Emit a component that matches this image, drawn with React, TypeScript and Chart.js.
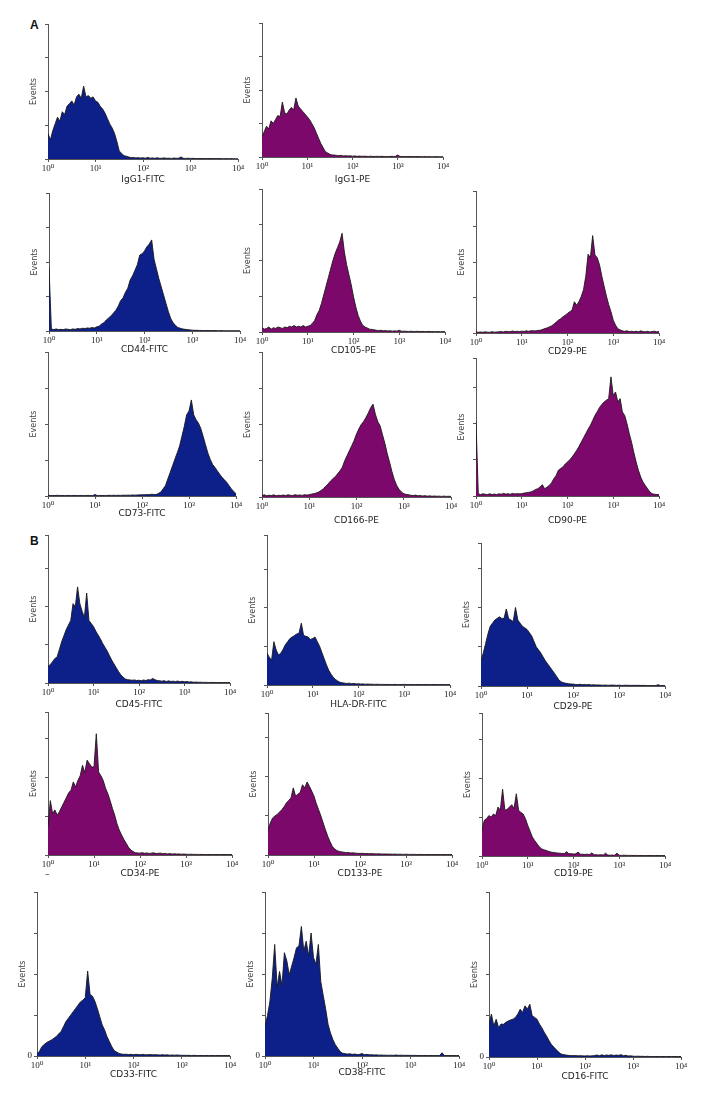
import React, { useEffect, useRef } from 'react';
import { Chart, registerables } from 'chart.js';

Chart.register(...registerables);

// log10 fluorescence channel positions (10^0 .. 10^4)
const LOG_BINS = [
  0, 0.05, 0.1, 0.15, 0.2, 0.25, 0.3, 0.35, 0.4, 0.45,
  0.5, 0.55, 0.6, 0.65, 0.7, 0.75, 0.8, 0.85, 0.9, 0.95,
  1, 1.05, 1.1, 1.15, 1.2, 1.25, 1.3, 1.35, 1.4, 1.45,
  1.5, 1.55, 1.6, 1.65, 1.7, 1.75, 1.8, 1.85, 1.9, 1.95,
  2, 2.05, 2.1, 2.15, 2.2, 2.25, 2.3, 2.35, 2.4, 2.45,
  2.5, 2.55, 2.6, 2.65, 2.7, 2.75, 2.8, 2.85, 2.9, 2.95,
  3, 3.05, 3.1, 3.15, 3.2, 3.25, 3.3, 3.35, 3.4, 3.45,
  3.5, 3.55, 3.6, 3.65, 3.7, 3.75, 3.8, 3.85, 3.9, 3.95,
  4,
];

const X_TICKS = [0, 1, 2, 3, 4];
const X_TICK_LABELS = ['10\u2070', '10\u00B9', '10\u00B2', '10\u00B3', '10\u2074'];
const Y_TICKS = [0, 25, 50, 75, 100];

// Events (relative units; 25 = one y tick interval)
const IGG1_FITC = [
  19, 14, 21, 26, 31, 28, 35, 33, 39, 41,
  43, 40, 46, 48, 45, 54, 46, 47, 45, 46,
  43, 42, 39, 37, 34, 30, 26, 23, 19, 13,
  6, 4, 2.5, 2, 1.5, 1, 1.2, 0.8, 1, 0.7,
  0.9, 0.6, 1.2, 0.6, 0.8, 0.5, 0.9, 0.5, 0.6, 0.8,
  0.5, 0.6, 0.4, 0.7, 0.5, 0.6, 1.5, 0.5, 0.4, 0.6,
  0.4, 0.5, 0.3, 0.4, 0.3, 0.4, 0.3, 0.3, 0.4, 0.3,
  0.3, 0.3, 0.3, 0.3, 0.2, 0.3, 0.2, 0.3, 0.2, 0.2,
  0.2,
];
const IGG1_PE = [
  15, 19, 23, 21, 27, 25, 28, 31, 30, 41,
  33, 32, 35, 37, 35, 44, 38, 36, 34, 32,
  30, 28, 25, 22, 18, 14, 10, 7, 4, 3,
  2, 1.5, 1.5, 1.2, 1, 1.2, 0.8, 1, 0.7, 0.9,
  0.6, 0.8, 0.5, 0.7, 0.5, 0.6, 0.5, 0.4, 0.6, 0.4,
  0.4, 0.5, 0.4, 0.5, 0.3, 0.4, 0.3, 0.5, 0.4, 0.5,
  1.5, 0.4, 0.3, 0.4, 0.3, 0.3, 0.4, 0.3, 0.3, 0.3,
  0.3, 0.2, 0.3, 0.2, 0.3, 0.2, 0.2, 0.3, 0.2, 0.2,
  0.2,
];
const CD44_FITC = [
  46, 1.5, 1, 1.5, 1, 1.2, 1, 1.5, 1.2, 1,
  1.5, 1.2, 1.8, 1.5, 2, 1.8, 2.2, 2, 2.5, 2.2,
  3, 3.5, 5, 6, 8, 9.5, 11, 13, 15, 18,
  22, 24, 28, 31, 37, 40, 44, 48, 55, 56,
  58, 61, 63, 66, 52, 45, 38, 32, 26, 20,
  14, 9, 6, 4, 2.5, 2, 1.5, 1.2, 1, 0.8,
  0.6, 0.5, 0.5, 0.4, 0.4, 0.3, 0.4, 0.3, 0.3, 0.3,
  0.3, 0.2, 0.3, 0.2, 0.2, 0.2, 0.2, 0.2, 0.2, 0.2,
  0.2,
];
const CD105_PE = [
  3, 2, 2.5, 3.5, 2, 3, 2.5, 3.5, 3, 2.5,
  3.5, 3, 4, 3.5, 4.5, 3.5, 4, 3.5, 4.5, 3.5,
  4, 4.5, 6, 8, 12, 15, 20, 26, 32, 38,
  44, 50, 55, 59, 63, 69, 56, 47, 40, 33,
  24.6, 17.6, 11.7, 7.7, 4.7, 3.5, 2.8, 2, 1.8, 1.5,
  1.2, 1, 1.2, 0.8, 1, 0.7, 0.9, 0.6, 0.8, 0.6,
  1.2, 0.5, 0.6, 0.5, 0.4, 0.5, 0.4, 0.4, 0.5, 0.3,
  0.4, 0.3, 0.3, 0.4, 0.3, 0.3, 0.2, 0.3, 0.2, 0.3,
  0.2,
];
const CD29_PE_A = [
  0.8, 0.5, 0.7, 0.5, 0.8, 0.6, 0.5, 0.9, 0.6, 0.7,
  0.8, 1, 0.7, 1.2, 0.9, 1, 1.4, 1, 1.2, 1,
  1.3, 1.1, 1.5, 1.2, 1.6, 1.5, 1.5, 1.8, 1.9, 2.4,
  3.1, 3.5, 4.3, 5, 6.2, 7.5, 9, 10, 11.4, 12.5,
  13.8, 15, 16, 22, 19.5, 22, 25.7, 30.5, 40, 55.5,
  53, 68.6, 55, 53, 48, 40, 33, 26, 20, 15,
  9, 5.5, 3, 2.2, 1.5, 1.2, 1.5, 1, 1.2, 0.9,
  1.2, 0.8, 1.5, 1, 0.8, 1.2, 0.7, 1, 1.3, 0.8,
  1,
];
const CD73_FITC = [
  0.5, 0.3, 0.4, 0.3, 0.5, 0.3, 0.4, 0.3, 0.3, 0.4,
  0.3, 0.4, 0.3, 0.3, 0.4, 0.3, 0.3, 0.4, 0.3, 0.3,
  1, 0.3, 0.4, 0.3, 0.4, 0.3, 0.5, 0.4, 0.5, 0.4,
  0.5, 0.4, 0.6, 0.5, 0.6, 0.5, 0.7, 0.6, 0.7, 0.8,
  0.8, 0.9, 1, 0.9, 1.2, 1.1, 1, 1.8, 2.7, 5,
  7.3, 11.9, 16.4, 21, 25.6, 30, 34.7, 41.5, 48.4, 56.4,
  59, 66.7, 56.4, 53, 50.7, 47, 41.5, 35.8, 30, 25.6,
  22, 19.9, 17.6, 15.3, 13, 11.4, 9.6, 7.3, 5, 3.2,
  1.6,
];
const CD166_PE = [
  1, 1.5, 0.8, 1.2, 1, 1.5, 0.8, 1.2, 1, 1.4,
  1, 1.5, 1.2, 1, 1.6, 1.2, 1.4, 1.1, 1.6, 1.3,
  1.6, 2, 2.3, 2.8, 3.4, 4.5, 5.7, 7.5, 9, 11,
  12.6, 14, 16, 18, 20.5, 25, 28.5, 32, 35.4, 39,
  43.4, 47, 50, 52, 54.8, 58, 61.6, 64, 57, 52,
  49, 43, 37, 30, 24, 17.5, 12, 8, 5.3, 3.5,
  2.3, 1.8, 1.6, 1.2, 1, 1.3, 0.8, 1, 0.7, 0.9,
  0.6, 0.8, 0.5, 0.7, 0.5, 0.6, 0.4, 0.6, 0.4, 0.5,
  0.4,
];
const CD90_PE = [
  51, 1.5, 1, 1.5, 1.2, 1, 1.5, 1, 1.3, 1,
  1.5, 1.2, 1.8, 1.3, 1.5, 1.2, 1.8, 1.4, 1.6, 1.5,
  1.6, 2, 2.2, 2.5, 2.8, 3.5, 4.5, 5, 6.2, 7.8,
  5, 6, 7.3, 9, 11.9, 14, 17.7, 19, 20, 22,
  23.4, 25, 26.8, 29, 31.4, 34, 37, 40, 43, 46,
  48.6, 52, 55.5, 58, 61, 63, 64.7, 66, 67, 82,
  69, 71.6, 64.7, 67, 57.8, 55.5, 49.8, 43, 37, 30,
  23.4, 17.7, 13, 9.6, 7.3, 5, 2.8, 1.6, 1.2, 1,
  1,
];
const CD45_FITC = [
  11, 12, 14, 16, 17, 22, 27, 31, 35, 38,
  41, 52, 50, 63, 52, 47, 43, 59, 41, 39,
  37, 34, 31.5, 29, 26, 23.5, 21, 18, 15, 12.5,
  10, 7.5, 5.4, 3.8, 2.6, 2.2, 2, 1.8, 2, 1.6,
  1.8, 1.5, 2, 1.6, 2.2, 2, 3, 2.2, 1.6, 1.5,
  1.2, 1.5, 1, 1.4, 1, 1.2, 0.9, 1.3, 0.8, 1.1,
  0.8, 1, 0.6, 0.8, 0.5, 0.6, 0.5, 0.5, 0.4, 0.4,
  0.4, 0.3, 0.4, 0.3, 0.3, 0.3, 0.3, 0.3, 0.3, 0.3,
  0.3,
];
const HLA_DR_FITC = [
  20.5, 18, 16, 28, 22.7, 19.4, 20.5, 23, 26, 28,
  30, 31, 32, 33, 33.5, 40, 32, 31.5, 31, 29.5,
  30, 31, 28, 25, 21, 17, 13, 9.5, 7, 5,
  3.5, 2.5, 1.7, 1.4, 1.2, 1, 1.2, 0.8, 1, 0.7,
  0.8, 0.6, 0.7, 0.5, 0.6, 0.5, 0.5, 0.4, 0.5, 0.4,
  0.4, 0.4, 0.3, 0.4, 0.3, 0.3, 0.4, 0.3, 0.3, 0.3,
  0.4, 0.3, 0.3, 0.3, 0.3, 0.3, 0.3, 0.3, 0.3, 0.3,
  0.3, 0.3, 0.3, 0.3, 0.3, 0.3, 0.3, 0.3, 0.3, 0.3,
  0.3,
];
const CD29_PE_B = [
  16, 21, 27, 33, 38, 40, 42, 43, 44, 43,
  43, 49, 43, 42, 41, 50, 42, 40, 38, 37,
  36, 34, 32, 28.5, 25, 23, 21, 18.5, 16, 14,
  12, 10, 8, 5.8, 3.6, 2.6, 2, 1.7, 1.5, 1.3,
  1.2, 1, 0.9, 1.1, 0.8, 1, 0.8, 0.9, 0.7, 0.8,
  0.6, 0.7, 0.6, 0.5, 0.6, 0.5, 0.5, 0.6, 0.5, 0.4,
  0.5, 0.4, 0.4, 0.5, 0.4, 0.4, 0.4, 0.4, 0.4, 0.4,
  0.3, 0.4, 0.3, 0.3, 0.3, 0.3, 0.3, 0.8, 0.3, 0.3,
  0.3,
];
const CD34_PE = [
  18, 35, 26.7, 29, 25.6, 28, 31, 34, 37, 40,
  41.7, 47, 43.8, 48, 51, 57.7, 53, 61, 58.8, 56.6,
  56.6, 78, 53.4, 51, 48, 43, 39.5, 35, 30, 25.6,
  20, 16, 12.8, 10, 7.5, 5, 3.2, 2.2, 1.5, 1.3,
  1.2, 1.5, 1.1, 1.3, 1, 1.2, 1.4, 0.9, 1.1, 1.2,
  0.8, 1, 0.7, 0.9, 0.6, 0.8, 0.6, 0.7, 0.5, 0.6,
  0.5, 0.4, 0.5, 0.4, 0.4, 0.4, 0.3, 0.4, 0.3, 0.3,
  0.3, 0.3, 0.3, 0.3, 0.3, 0.3, 0.3, 0.3, 0.3, 0.3,
  0.3,
];
const CD133_PE = [
  16, 20.5, 23.7, 25, 26, 27.5, 29, 31, 33.4, 35,
  36.6, 43, 37.7, 39, 40, 45, 43, 46.8, 44, 41,
  37.7, 33, 29, 25, 20.5, 16, 11.9, 8.5, 5.4, 3.8,
  2.8, 2.3, 2, 1.8, 1.5, 1.6, 1.3, 1.4, 1.2, 1.1,
  1, 1.1, 0.9, 1, 0.8, 0.9, 0.8, 0.7, 0.8, 0.7,
  0.6, 0.7, 0.6, 0.6, 0.5, 0.6, 0.5, 0.5, 0.5, 0.4,
  0.5, 0.4, 0.4, 0.4, 0.4, 0.3, 0.4, 0.3, 0.3, 0.3,
  0.3, 0.3, 0.3, 0.3, 0.3, 0.3, 0.3, 0.3, 0.3, 0.3,
  0.3,
];
const CD19_PE = [
  16.5, 23, 24, 26, 25, 27, 26, 31.5, 29.4, 43,
  29.4, 30, 31.5, 33, 30.5, 40, 29.4, 28, 27, 24,
  19.7, 16, 12.2, 10, 8, 6, 4.7, 4, 3.6, 3,
  2.6, 2.3, 2.1, 1.9, 1.8, 1.6, 1.5, 2.8, 1.4, 1.5,
  1.3, 1.4, 2.5, 1.2, 1.1, 1, 1.2, 0.9, 2, 0.8,
  0.8, 0.7, 0.8, 0.6, 1.8, 0.6, 0.5, 0.6, 0.5, 1.8,
  0.5, 0.4, 0.5, 0.4, 0.4, 0.4, 0.3, 0.4, 0.3, 0.3,
  0.3, 0.3, 0.3, 0.3, 0.3, 0.3, 0.3, 0.3, 0.3, 0.3,
  0.3,
];
const CD33_FITC = [
  1.6, 2.7, 5.7, 7, 8.2, 9, 9.8, 10.8, 11.9, 13.5,
  15, 18, 21, 23, 25, 27, 29, 31, 33, 34,
  35.5, 51.8, 37.5, 36.5, 33.4, 29, 24, 19, 16, 11.9,
  8.8, 5.7, 3.3, 2.4, 1.6, 1.2, 1, 1.1, 0.9, 1,
  0.8, 1, 0.9, 0.8, 1, 0.7, 0.8, 0.9, 0.7, 0.8,
  0.7, 0.6, 0.8, 0.6, 0.7, 0.5, 0.6, 0.5, 0.6, 0.5,
  0.4, 0.4, 0.4, 0.4, 0.3, 0.4, 0.3, 0.3, 0.3, 0.3,
  0.3, 0.3, 0.3, 0.3, 0.3, 0.3, 0.3, 0.3, 0.3, 0.3,
  0.3,
];
const CD38_FITC = [
  18, 24.6, 33, 47.5, 68, 42, 51.6, 43, 63, 58,
  49.6, 54.8, 60, 66, 67, 79, 64, 70, 61, 75,
  60, 56, 68, 45.4, 37, 28.8, 19.4, 14, 10, 6.9,
  4.8, 2.7, 1.7, 1.4, 1.2, 1.3, 1, 1.2, 0.9, 1,
  1.5, 0.8, 1, 0.7, 0.8, 0.6, 0.7, 0.5, 0.6, 0.5,
  0.5, 0.4, 0.5, 0.4, 0.6, 0.4, 0.5, 0.4, 0.4, 0.4,
  0.4, 0.3, 0.4, 0.3, 0.3, 0.3, 0.3, 0.3, 0.3, 0.3,
  0.3, 0.3, 0.3, 2, 0.3, 0.3, 0.3, 0.3, 0.3, 0.3,
  0.3,
];
const CD16_FITC = [
  20, 26, 18.8, 22.9, 17.8, 20, 19.8, 21, 21.8, 22.5,
  22.9, 24, 26, 29, 27, 31, 29, 32, 25, 24,
  22.9, 20, 17.8, 15, 12.6, 10, 7.6, 6, 4.5, 3,
  1.8, 1.5, 1.2, 1, 0.9, 0.8, 0.9, 0.7, 0.8, 0.7,
  0.6, 0.8, 0.6, 0.7, 0.9, 1.2, 0.8, 1.3, 0.9, 1.2,
  1, 1.3, 0.9, 1.2, 1, 1.4, 0.8, 1, 0.6, 0.7,
  0.5, 0.4, 0.5, 0.4, 0.4, 0.3, 0.4, 0.3, 0.3, 0.3,
  0.3, 0.3, 0.3, 0.3, 0.3, 0.3, 0.3, 0.3, 0.3, 0.3,
  0.3,
];

const COLORS: Record<string, string> = {
  FITC: '#0d1f88',
  PE: '#7c086b',
};

type PanelDef = {
  name: string;
  values: number[];
  dye: string;
  yMax: number;
  L: number; R: number; T: number; B: number; N: number;
  zero?: boolean;
};

const PANELS: PanelDef[] = [
  { name: 'IgG1-FITC', values: IGG1_FITC, dye: 'FITC', yMax: 100, L: 48, R: 238, T: 24, B: 159, N: 180 },
  { name: 'IgG1-PE', values: IGG1_PE, dye: 'PE', yMax: 100, L: 262, R: 443, T: 23, B: 157, N: 180 },
  { name: 'CD44-FITC', values: CD44_FITC, dye: 'FITC', yMax: 100, L: 49, R: 240, T: 193, B: 331, N: 350 },
  { name: 'CD105-PE', values: CD105_PE, dye: 'PE', yMax: 100, L: 262, R: 445, T: 189, B: 332, N: 351 },
  { name: 'CD29-PE', values: CD29_PE_A, dye: 'PE', yMax: 100, L: 476, R: 659, T: 191, B: 333, N: 352 },
  { name: 'CD73-FITC', values: CD73_FITC, dye: 'FITC', yMax: 100, L: 48, R: 236, T: 352, B: 496, N: 514 },
  { name: 'CD166-PE', values: CD166_PE, dye: 'PE', yMax: 100, L: 262, R: 451, T: 352, B: 497, N: 521 },
  { name: 'CD90-PE', values: CD90_PE, dye: 'PE', yMax: 95, L: 476, R: 659, T: 358, B: 496, N: 521 },
  { name: 'CD45-FITC', values: CD45_FITC, dye: 'FITC', yMax: 97, L: 48, R: 230, T: 535, B: 683, N: 705 },
  { name: 'HLA-DR-FITC', values: HLA_DR_FITC, dye: 'FITC', yMax: 97, L: 267, R: 450, T: 535, B: 685, N: 705 },
  { name: 'CD29-PE', values: CD29_PE_B, dye: 'FITC', yMax: 91, L: 481, R: 665, T: 543, B: 686, N: 707 },
  { name: 'CD34-PE', values: CD34_PE, dye: 'PE', yMax: 92, L: 48, R: 232, T: 712, B: 855, N: 874 },
  { name: 'CD133-PE', values: CD133_PE, dye: 'PE', yMax: 91, L: 268, R: 452, T: 713, B: 855, N: 874 },
  { name: 'CD19-PE', values: CD19_PE, dye: 'PE', yMax: 92, L: 482, R: 665, T: 713, B: 856, N: 874 },
  { name: 'CD33-FITC', values: CD33_FITC, dye: 'FITC', yMax: 100, L: 37, R: 230, T: 892, B: 1056, N: 1075, zero: true },
  { name: 'CD38-FITC', values: CD38_FITC, dye: 'FITC', yMax: 100, L: 265, R: 459, T: 892, B: 1056, N: 1073, zero: true },
  { name: 'CD16-FITC', values: CD16_FITC, dye: 'FITC', yMax: 100, L: 489, R: 681, T: 892, B: 1057, N: 1077, zero: true },
];

const Y_BOX = 19;
const PAD_TOP = 8;
const PAD_RIGHT = 16;
const NAME_FONT = 9;

function Panel({ p }: { p: PanelDef }) {
  const ref = useRef<HTMLCanvasElement | null>(null);
  const canvasLeft = p.L - Y_BOX;
  const canvasTop = p.T - PAD_TOP;
  const canvasW = p.R - p.L + Y_BOX + PAD_RIGHT;
  const canvasBottom = Math.round(p.N + (NAME_FONT * 1.2) / 2);
  const canvasH = canvasBottom - canvasTop;
  const xBox = canvasBottom - p.B;

  useEffect(() => {
    const canvas = ref.current;
    if (!canvas) return;
    const chart = new Chart(canvas, {
      type: 'line',
      data: {
        datasets: [
          {
            data: LOG_BINS.map((x, i) => ({ x, y: p.values[i] })),
            fill: 'origin',
            backgroundColor: COLORS[p.dye],
            borderColor: 'rgba(25,25,25,0.9)',
            borderWidth: 1,
            pointRadius: 0,
            tension: 0,
          },
        ],
      },
      options: {
        responsive: false,
        animation: false,
        events: [],
        layout: { padding: { left: 0, right: PAD_RIGHT, top: PAD_TOP, bottom: 0 } },
        plugins: { legend: { display: false }, tooltip: { enabled: false } },
        scales: {
          x: {
            type: 'linear',
            min: 0,
            max: 4,
            afterBuildTicks: (s: any) => {
              s.ticks = X_TICKS.map((v) => ({ value: v }));
            },
            afterFit: (s: any) => {
              s.height = xBox;
            },
            ticks: {
              autoSkip: false,
              maxRotation: 0,
              padding: 1,
              color: '#222',
              font: { family: "'Liberation Serif', 'DejaVu Serif', serif", size: 9 },
              callback: (v: any) => X_TICK_LABELS[X_TICKS.indexOf(Number(v))],
            },
            grid: { drawOnChartArea: false, drawTicks: true, tickLength: 3, color: '#555' },
            border: { display: true, color: '#555', width: 1 },
            title: {
              display: true,
              text: p.name,
              color: '#222',
              padding: 0,
              font: { family: "'DejaVu Sans', sans-serif", size: NAME_FONT },
            },
          },
          y: {
            type: 'linear',
            min: 0,
            max: p.yMax,
            afterBuildTicks: (s: any) => {
              const t = Y_TICKS.filter((v) => v <= p.yMax);
              if (t[t.length - 1] !== p.yMax) t.push(p.yMax);
              s.ticks = t.map((v) => ({ value: v }));
            },
            afterFit: (s: any) => {
              s.width = Y_BOX;
            },
            ticks: {
              autoSkip: false,
              padding: 2,
              color: '#222',
              font: { family: "'Liberation Serif', 'DejaVu Serif', serif", size: 9 },
              callback: (v: any) => (p.zero && Number(v) === 0 ? '0' : ''),
            },
            grid: { drawOnChartArea: false, drawTicks: true, tickLength: 3, color: '#555' },
            border: { display: true, color: '#555', width: 1 },
            title: {
              display: true,
              text: 'Events',
              color: '#444',
              padding: 0,
              font: { family: "'DejaVu Sans', sans-serif", size: 8 },
            },
          },
        },
      },
    } as any);
    return () => chart.destroy();
  }, []);

  return (
    <canvas
      ref={ref}
      width={canvasW}
      height={canvasH}
      style={{ position: 'absolute', left: canvasLeft, top: canvasTop, width: canvasW, height: canvasH }}
    />
  );
}

const letterStyle: React.CSSProperties = {
  position: 'absolute',
  fontFamily: "'Liberation Sans', Arial, sans-serif",
  fontWeight: 'bold',
  fontSize: 12,
  lineHeight: '12px',
  color: '#111',
};

export default function App() {
  return (
    <div
      style={{
        position: 'absolute',
        left: 0,
        top: 0,
        width: 708,
        height: 1106,
        background: '#fff',
        overflow: 'hidden',
      }}
    >
      <div style={{ ...letterStyle, left: 30, top: 19 }}>A</div>
      <div style={{ ...letterStyle, left: 30, top: 535 }}>B</div>
      <div
        style={{
          position: 'absolute',
          left: 45,
          top: 869,
          fontSize: 9,
          lineHeight: '10px',
          fontFamily: "'DejaVu Sans', sans-serif",
          color: '#333',
        }}
      >
        –
      </div>
      {PANELS.map((p, i) => (
        <Panel key={i} p={p} />
      ))}
    </div>
  );
}
